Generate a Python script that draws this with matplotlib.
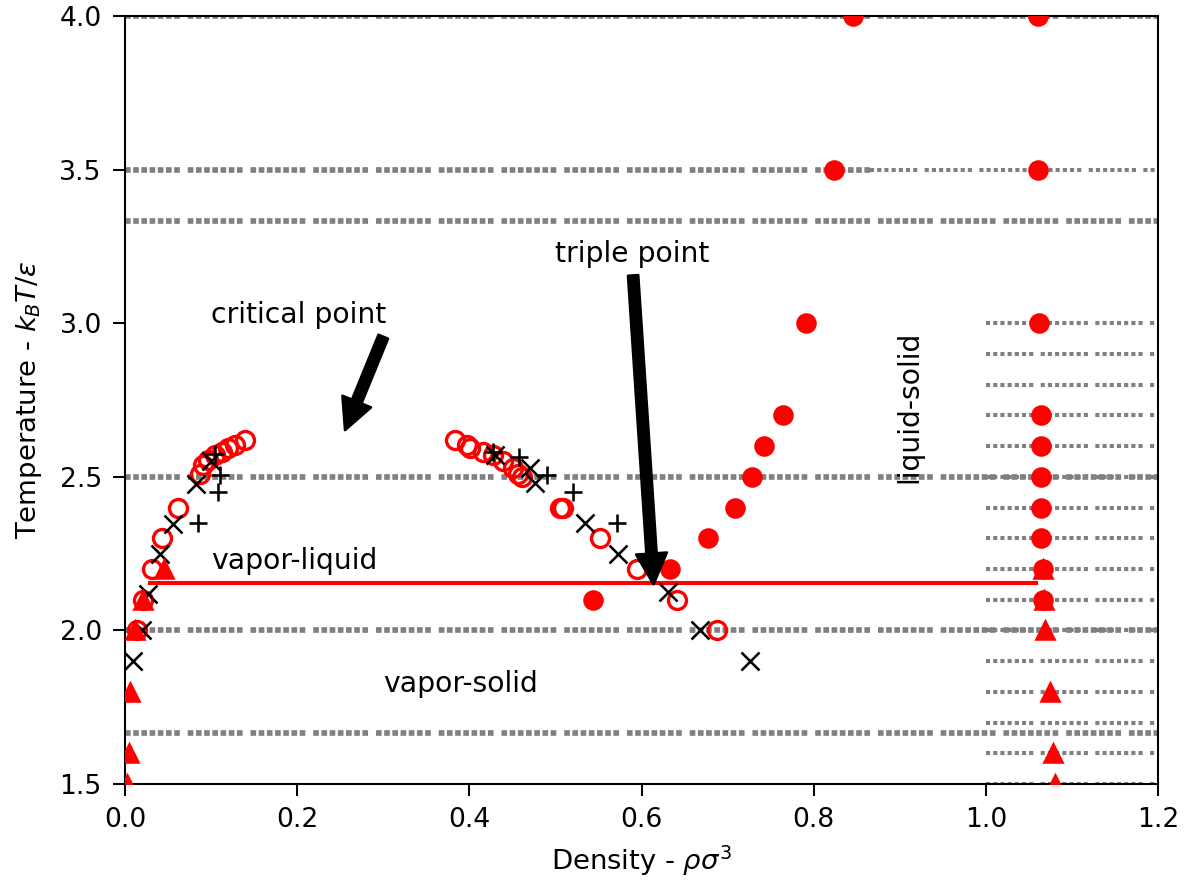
import matplotlib
matplotlib.use("Agg")
import matplotlib.pyplot as plt

# vapor-liquid coexistence (open red circles)
vl_rho = [0.014, 0.021, 0.031, 0.043, 0.062, 0.087, 0.091, 0.096, 0.105, 0.113, 0.120, 0.128, 0.139,
          0.383, 0.397, 0.401, 0.416, 0.428, 0.439, 0.451, 0.457, 0.461, 0.505, 0.509, 0.552, 0.595,
          0.641, 0.688]
vl_T = [2.0, 2.1, 2.2, 2.3, 2.4, 2.51, 2.54, 2.555, 2.57, 2.58, 2.595, 2.605, 2.62,
        2.62, 2.605, 2.595, 2.58, 2.57, 2.55, 2.53, 2.51, 2.5, 2.4, 2.4, 2.3, 2.2,
        2.1, 2.0]

# second data set (black x)
x_rho = [0.009, 0.020, 0.027, 0.041, 0.056, 0.083, 0.100,
         0.430, 0.470, 0.476, 0.534, 0.573, 0.631, 0.668, 0.726]
x_T = [1.9, 2.0, 2.12, 2.25, 2.345, 2.475, 2.55,
       2.57, 2.53, 2.48, 2.35, 2.25, 2.125, 2.0, 1.9]

# third data set (black +)
p_rho = [0.085, 0.108, 0.110, 0.105,
         0.427, 0.458, 0.490, 0.520, 0.572]
p_T = [2.35, 2.45, 2.505, 2.575,
       2.58, 2.565, 2.505, 2.45, 2.35]

# liquid-solid (filled red circles)
ls_rho = [0.544, 0.633, 0.677, 0.709, 0.728, 0.742, 0.764, 0.791, 0.824, 0.846,
          1.066, 1.066, 1.064, 1.064, 1.064, 1.064, 1.064, 1.062, 1.061, 1.061]
ls_T = [2.1, 2.2, 2.3, 2.4, 2.5, 2.6, 2.7, 3.0, 3.5, 4.0,
        2.1, 2.2, 2.3, 2.4, 2.5, 2.6, 2.7, 3.0, 3.5, 4.0]

# vapor-solid (red triangles)
vs_rho = [0.002, 0.005, 0.006, 0.012, 0.021, 0.045,
          1.080, 1.078, 1.074, 1.069, 1.067, 1.066]
vs_T = [1.5, 1.6, 1.8, 2.0, 2.1, 2.2,
        1.5, 1.6, 1.8, 2.0, 2.1, 2.2]

# triple line
triple_T = 2.155
triple_rho = [0.029, 1.058]

# isotherms
long_T = [4.0, 3.333, 2.5, 2.0, 1.667]
short_T = [3.0, 2.9, 2.8, 2.7, 2.6, 2.5, 2.4, 2.3, 2.2, 2.1, 2.0, 1.9, 1.8, 1.7, 1.6, 1.5]

sq_style = (0, (1, 0.45) * 6 + (1, 1.4))
rd_style = (0, (1, 0.75) * 6 + (1, 1.8))

fig = plt.figure(figsize=(1185 / 185, 886 / 185), dpi=185)
ax = fig.add_axes([125 / 1185, 1 - 784 / 886, (1158 - 125) / 1185, (784 - 16) / 886])

for t in long_T:
    ax.plot([0, 1.2], [t, t], color='gray', lw=2.2, linestyle=sq_style, zorder=1)
ax.plot([0, 0.865], [3.5, 3.5], color='gray', lw=2.2, linestyle=sq_style, zorder=1)
ax.plot([0.865, 1.2], [3.5, 3.5], color='gray', lw=1.6, linestyle=rd_style, zorder=1)
for t in short_T:
    ax.plot([1.0, 1.2], [t, t], color='gray', lw=1.6, linestyle=rd_style, zorder=1)

ax.plot(triple_rho, [triple_T, triple_T], color='red', lw=1.6, zorder=2)

ax.plot(vl_rho, vl_T, 'o', ms=7, mfc='none', mec='red', mew=1.3, zorder=3)
ax.plot(x_rho, x_T, 'x', ms=7, color='black', zorder=3)
ax.plot(p_rho, p_T, '+', ms=7, color='black', zorder=3)
ax.plot(ls_rho, ls_T, 'o', ms=7, color='red', zorder=3)
ax.plot(vs_rho, vs_T, '^', ms=7, color='red', zorder=3)

arrow = 'simple,head_length=1.2,head_width=1.2,tail_width=0.4'
ax.annotate('critical point', xy=(0.2556, 2.652), xytext=(0.1, 3.0), fontsize=11,
            arrowprops=dict(arrowstyle=arrow, fc='black', ec='black', mutation_scale=10,
                            relpos=(1, 0), shrinkA=1, shrinkB=0))
ax.annotate('triple point', xy=(0.614, 2.15), xytext=(0.5, 3.2), fontsize=11,
            arrowprops=dict(arrowstyle=arrow, fc='black', ec='black', mutation_scale=10,
                            relpos=(0.5, 0), shrinkA=1, shrinkB=0))

ax.text(0.1, 2.2, 'vapor-liquid', fontsize=11)
ax.text(0.3, 1.8, 'vapor-solid', fontsize=11)
ax.text(0.895, 2.5, 'liquid-solid', rotation=90, fontsize=11)

ax.set_xlim(0, 1.2)
ax.set_ylim(1.5, 4.0)
ax.tick_params(length=4.5, pad=4.5, labelsize=10.3)
ax.set_xlabel('Density - $\\rho\\sigma^3$', fontsize=10.7)
ax.set_ylabel('Temperature - $k_BT/\\epsilon$', fontsize=10.7, labelpad=6)

fig.savefig('out.png', dpi=185)
